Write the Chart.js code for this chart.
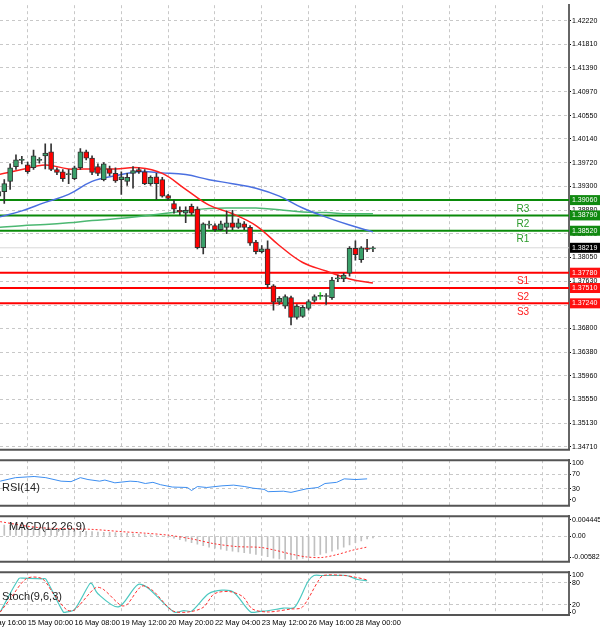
<!DOCTYPE html>
<html>
<head>
<meta charset="utf-8">
<script src="https://cdn.jsdelivr.net/npm/chart.js@4.4.1/dist/chart.umd.min.js"></script>
<style>
  html, body { margin: 0; padding: 0; background: #fff; }
  #wrap { position: relative; width: 600px; height: 631px; overflow: hidden; }
  .panel { position: absolute; left: 0; width: 600px; }
</style>
</head>
<body>
<div id="wrap">
  <div class="panel" style="top:0;height:455px"><canvas id="mainChart"></canvas></div>
  <div class="panel" style="top:455px;height:56px"><canvas id="rsiChart"></canvas></div>
  <div class="panel" style="top:511px;height:56px"><canvas id="macdChart"></canvas></div>
  <div class="panel" style="top:567px;height:64px"><canvas id="stochChart"></canvas></div>
</div>
<script>
// H4 candles
const opens  = [1.3913,1.3921,1.3939,1.3965,1.3976,1.3968,1.3963,1.3976,1.3984,1.3991,1.3960,1.3956,1.3951,1.3944,1.3963,1.3991,1.3980,1.3965,1.3942,1.3961,1.3953,1.3942,1.3939,1.3953,1.3960,1.3956,1.3935,1.3947,1.3942,1.3914,1.3900,1.3888,1.3883,1.3895,1.3890,1.3822,1.3862,1.3861,1.3854,1.3858,1.3866,1.3858,1.3864,1.3858,1.3832,1.3815,1.3820,1.3755,1.3726,1.3719,1.3734,1.3699,1.3701,1.3715,1.3729,1.3736,1.3736,1.3734,1.3767,1.3767,1.3777,1.3821,1.3801,1.3822,1.3820];
const highs  = [1.3925,1.3942,1.3970,1.3986,1.3983,1.3973,1.3994,1.3981,1.4005,1.4005,1.3963,1.3960,1.3960,1.3966,1.3997,1.3994,1.3984,1.3970,1.3972,1.3966,1.3963,1.3956,1.3953,1.3965,1.3963,1.3960,1.3949,1.3953,1.3946,1.3916,1.3906,1.3894,1.3894,1.3899,1.3894,1.3866,1.3869,1.3864,1.3869,1.3887,1.3888,1.3873,1.3868,1.3861,1.3835,1.3826,1.3834,1.3757,1.3736,1.3739,1.3737,1.3722,1.3720,1.3730,1.3739,1.3743,1.3741,1.3770,1.3774,1.3777,1.3824,1.3834,1.3824,1.3837,1.3824];
const lows   = [1.3904,1.3900,1.3925,1.3960,1.3970,1.3953,1.3960,1.3971,1.3961,1.3958,1.3951,1.3939,1.3935,1.3942,1.3960,1.3977,1.3951,1.3949,1.3940,1.3949,1.3937,1.3916,1.3932,1.3927,1.3953,1.3933,1.3932,1.3907,1.3911,1.3906,1.3883,1.3880,1.3866,1.3880,1.3820,1.3811,1.3856,1.3851,1.3852,1.3847,1.3854,1.3856,1.3854,1.3826,1.3811,1.3813,1.3752,1.3712,1.3722,1.3715,1.3686,1.3696,1.3699,1.3712,1.3726,1.3731,1.3722,1.3731,1.3762,1.3762,1.3772,1.3800,1.3796,1.3815,1.3815];
const closes = [1.3921,1.3935,1.3963,1.3977,1.3977,1.3956,1.3984,1.3977,1.3989,1.3960,1.3955,1.3944,1.3952,1.3963,1.3991,1.3980,1.3955,1.3953,1.3970,1.3953,1.3940,1.3947,1.3946,1.3958,1.3956,1.3935,1.3946,1.3935,1.3913,1.3909,1.3890,1.3885,1.3888,1.3883,1.3822,1.3864,1.3863,1.3854,1.3864,1.3866,1.3858,1.3866,1.3858,1.3830,1.3815,1.3820,1.3757,1.3726,1.3733,1.3736,1.3699,1.3719,1.3717,1.3727,1.3736,1.3738,1.3737,1.3765,1.3767,1.3774,1.3821,1.3810,1.3822,1.3819,1.38219];

// moving averages, sampled every 4 candles
const maIndex   = [0,4,8,12,16,20,24,28,32,36,40,44,48,52,56,60,64];
const maRed     = [1.3951,1.3960,1.3968,1.3961,1.3961,1.3961,1.3963,1.3953,1.3925,1.3897,1.3882,1.3861,1.3826,1.3796,1.3781,1.3767,1.3760];
const maBlue    = [1.3876,1.3887,1.3902,1.3916,1.3939,1.3949,1.3956,1.3954,1.3951,1.3942,1.3935,1.3927,1.3913,1.3892,1.3876,1.3862,1.3850];
const maGreen   = [1.3858,1.3861,1.3863,1.3866,1.3870,1.3873,1.3877,1.3882,1.3887,1.3891,1.3892,1.3892,1.3889,1.3885,1.3884,1.3882,1.3882];

// pivot levels
const levelNames  = ['R3','R2','R1','S1','S2','S3'];
const levelValues = [1.39060,1.38790,1.38520,1.37780,1.37510,1.37240];
const lastPrice = 1.38219;

const priceTicks = [1.42220,1.41810,1.41390,1.40970,1.40550,1.40140,1.39720,1.39300,1.38880,1.38470,1.38050,1.37630,1.37210,1.36800,1.36380,1.35960,1.35550,1.35130,1.34710];

// RSI(14)
const rsiX = [0.3,2.9,6.1,8.1,10.7,12.4,14,15.3,17.3,18.2,19.9,22.5,23.8,25.1,26.4,27.7,29.7,32.3,33,34,35.6,38.2,40.2,42.1,43.5,45.4,46.1,48.7,50,52.6,54.6,55.8,57.8,59.1,61.1,63];
const rsiY = [51,60.5,63.7,60.5,51,49.7,60.5,55.4,51,54,46.5,51,49.7,44.6,47.8,41.4,35,33.8,25.6,36.3,33.8,38.3,40.2,36.3,31.9,28.7,22.4,23.7,20.5,30,33.8,44.6,47.8,57.3,55.4,57.3];

// MACD(12,26,9): histogram per candle, signal sampled
const macdHist = [0.0031,0.0030,0.0029,0.0028,0.0027,0.0026,0.0025,0.0024,0.0022,0.0020,0.0018,0.0016,0.0015,0.0014,0.0013,0.0013,0.0012,0.0011,0.0010,0.0010,0.0009,0.0008,0.0007,0.0006,0.0005,0.0004,0.0003,0.0002,0.0000,-0.0003,-0.0006,-0.0010,-0.0014,-0.0018,-0.0022,-0.0026,-0.0030,-0.0033,-0.0036,-0.0039,-0.0041,-0.0043,-0.0045,-0.0047,-0.0050,-0.0053,-0.0056,-0.0060,-0.0062,-0.0063,-0.0064,-0.0063,-0.0061,-0.0058,-0.0054,-0.0050,-0.0046,-0.0041,-0.0036,-0.0030,-0.0024,-0.0018,-0.0013,-0.0008,-0.0005];
const macdSigX = [0.3,6.8,16,21.2,25.1,29,33,36.9,40.8,44.8,47.4,50,52.6,55.2,57.8,60.4,63];
const macdSigY = [0.0039,0.0023,0.0018,0.00117,0.00077,0.00023,-0.00077,-0.0021,-0.00287,-0.0031,-0.0039,-0.0049,-0.00567,-0.00584,-0.00507,-0.0039,-0.0030];

// Stoch(9,6,3)
const stochX = [0.3,3.5,4.2,7.5,8.1,11.1,11.7,13,15.6,16,17,20.5,23.8,25.5,30,31.7,33,35.9,38.2,40.2,43.1,44.7,46,48.7,50.6,52.9,53.9,55.2,57.8,59.5,61.4,63];
const stochK = [0,91.7,92.6,90.9,90.4,0,0.5,7,77.5,77,50,14.2,75,66.7,0,4.2,2.6,50,60,54.2,0.4,2,3.6,11,12.9,83.5,100,100,100,100,89,85.8];
const stochSigX = [0.3,1.9,4.8,7.5,9.4,11.7,13,16.6,17.9,20.9,21.9,24.5,26.4,29.7,32.3,35,36.9,39.5,41.8,43.4,46.1,50,51.9,54.6,55.5,59.1,61.1,63];
const stochD = [0,33.4,91.7,90.9,50,5.9,5.9,66.7,62.5,18.4,19.2,70.9,58.4,4.2,0,12.9,50,56,41.7,8.4,0.4,8.4,12.9,83.5,100,100,95,88];

// time axis: a label every 8 bars
const timeTicks = [-3,5,13,21,29,37,45,53,61,69,77,85,93];
const timeLabels = {'-3':'14 May 16:00',5:'15 May 00:00',13:'16 May 08:00',21:'19 May 12:00',29:'20 May 20:00',37:'22 May 04:00',45:'23 May 12:00',53:'26 May 16:00',61:'28 May 00:00'};

const X_MIN = 0.27, X_MAX = 97.5;
const FONT = 'Liberation Sans';
const GRID = '#c8c8c8';

function pts(xs, ys) { return xs.map((x, i) => ({x: x, y: ys[i]})); }

function xAxis(showLabels) {
    return {
        type: 'linear', min: X_MIN, max: X_MAX, offset: false,
        afterBuildTicks: s => { s.ticks = timeTicks.map(v => ({value: v})); },
        afterFit: s => { s.height = showLabels ? 16 : 0; s.paddingLeft = 0; s.paddingRight = 0; },
        grid: { color: GRID, drawTicks: false, offset: false },
        border: { display: false, dash: [3, 3] },
        ticks: {
            display: showLabels, autoSkip: false, maxRotation: 0, align: 'start',
            padding: 3, color: '#000', font: { family: FONT, size: 7.5 },
            callback: v => timeLabels[v] || ''
        }
    };
}

function yAxis(min, max, ticks, fmt, gridAt) {
    return {
        position: 'right', min: min, max: max,
        afterBuildTicks: s => { s.ticks = ticks.map(v => ({value: v})); },
        afterFit: s => { s.width = 31; },
        grid: {
            color: c => (gridAt === null || gridAt.includes(c.tick.value)) ? GRID : 'rgba(0,0,0,0)',
            tickColor: '#000', tickLength: 2
        },
        border: { display: true, color: '#666', width: 2, dash: [3, 3] },
        ticks: { padding: 1, color: '#000', font: { family: FONT, size: 7 }, callback: fmt }
    };
}

// frame + panel title
const framePlugin = {
    id: 'frame',
    afterDraw(chart, args, opts) {
        const a = chart.chartArea, ctx = chart.ctx;
        ctx.save();
        ctx.strokeStyle = '#555';
        ctx.lineWidth = 2;
        if (opts.top) { ctx.beginPath(); ctx.moveTo(0, a.top); ctx.lineTo(a.right + 1, a.top); ctx.stroke(); }
        if (opts.bottom) { ctx.beginPath(); ctx.moveTo(0, a.bottom); ctx.lineTo(a.right + 1, a.bottom); ctx.stroke(); }
        if (opts.title) {
            ctx.fillStyle = '#222';
            ctx.font = '11px ' + FONT;
            ctx.textBaseline = 'middle';
            ctx.fillText(opts.title, opts.tx, a.top + opts.ty);
        }
        ctx.restore();
    }
};

// price boxes on the right axis and level names
const levelPlugin = {
    id: 'levels',
    afterDraw(chart) {
        const ctx = chart.ctx, y = chart.scales.y, a = chart.chartArea;
        ctx.save();
        ctx.textBaseline = 'middle';
        const box = (v, bg, fg) => {
            const py = y.getPixelForValue(v);
            ctx.fillStyle = bg;
            ctx.fillRect(a.right + 1, py - 5, 600 - a.right, 10);
            ctx.fillStyle = fg;
            ctx.textAlign = 'left';
            ctx.font = '7px ' + FONT;
            ctx.fillText(v.toFixed(5), a.right + 3, py);
        };
        levelValues.forEach((v, i) => {
            const green = i < 3;
            box(v, green ? '#108a10' : '#ff1010', '#fff');
            ctx.font = '10px ' + FONT;
            ctx.fillStyle = green ? '#2a9a2a' : '#ff2020';
            ctx.textAlign = 'center';
            ctx.fillText(levelNames[i], 523, y.getPixelForValue(v) + 9);
        });
        box(lastPrice, '#000', '#fff');
        ctx.restore();
    }
};
Chart.register(framePlugin);

// candle datasets
const idx = closes.map((c, i) => i);
const bull = closes.map((c, i) => c >= opens[i]);
const wickData = idx.map(i => ({x: i, y: [lows[i], highs[i]]}));
const bodyData = idx.map(i => ({x: i, y: [opens[i], closes[i]]}));
const farX = [-5, 110];

const levelSets = levelValues.map((v, i) => ({
    type: 'line', data: pts(farX, [v, v]), borderColor: i < 3 ? '#0a8a0a' : '#ff0000',
    borderWidth: 2, pointRadius: 0, order: 6
}));

new Chart(document.getElementById('mainChart'), {
    type: 'bar',
    data: {
        datasets: [
            { type: 'line', data: pts(farX, [lastPrice, lastPrice]), borderColor: '#d8d8d8', borderWidth: 1, pointRadius: 0, order: 7 },
            ...levelSets,
            { type: 'line', data: pts(maIndex, maGreen), borderColor: '#4cb872', borderWidth: 1.5, pointRadius: 0, tension: 0.4, order: 5 },
            { type: 'line', data: pts(maIndex, maBlue), borderColor: '#4a6fe0', borderWidth: 1.5, pointRadius: 0, tension: 0.4, order: 4 },
            { type: 'line', data: pts(maIndex, maRed), borderColor: '#ff2020', borderWidth: 1.5, pointRadius: 0, tension: 0.4, order: 3 },
            { data: wickData, backgroundColor: idx.map(i => i === 55 ? '#22dd22' : '#333'), barThickness: 1, grouped: false, order: 2 },
            { data: bodyData, backgroundColor: bull.map(b => b ? '#3aa06a' : '#ff0000'), borderColor: '#333', borderWidth: 1, borderSkipped: false,
              barThickness: 5, minBarLength: 1, grouped: false, order: 1 }
        ]
    },
    options: {
        responsive: true, maintainAspectRatio: false, animation: false,
        layout: { padding: { top: 0, bottom: 1, left: 0, right: 0 } },
        plugins: { legend: { display: false }, tooltip: { enabled: false }, frame: { bottom: true } },
        scales: {
            x: xAxis(false),
            y: yAxis(1.34658, 1.42496, priceTicks, v => v.toFixed(5), null)
        }
    },
    plugins: [levelPlugin]
});

new Chart(document.getElementById('rsiChart'), {
    type: 'line',
    data: { datasets: [{ data: pts(rsiX, rsiY), borderColor: '#3d8ef0', borderWidth: 1, pointRadius: 0 }] },
    options: {
        responsive: true, maintainAspectRatio: false, animation: false,
        layout: { padding: { top: 1, bottom: 1 } },
        plugins: { legend: { display: false }, tooltip: { enabled: false }, frame: { top: true, bottom: true, title: 'RSI(14)', tx: 2, ty: 28 } },
        scales: { x: xAxis(false), y: yAxis(-16, 108, [100, 70, 30, 0], v => String(v), [70, 30]) }
    }
});

new Chart(document.getElementById('macdChart'), {
    type: 'bar',
    data: {
        datasets: [
            { type: 'line', data: pts(macdSigX, macdSigY), borderColor: '#ff3030', borderWidth: 1, borderDash: [2, 2], pointRadius: 0, tension: 0.3, order: 1 },
            { data: idx.map(i => ({x: i, y: macdHist[i]})), backgroundColor: '#c0c0c0', barThickness: 1, grouped: false, order: 2 }
        ]
    },
    options: {
        responsive: true, maintainAspectRatio: false, animation: false,
        layout: { padding: { top: 1, bottom: 2 } },
        plugins: { legend: { display: false }, tooltip: { enabled: false }, frame: { top: true, bottom: true, title: 'MACD(12,26,9)', tx: 9, ty: 11 } },
        scales: {
            x: xAxis(false),
            y: yAxis(-0.0070, 0.00538, [0.004445, 0, -0.005827], v => v === 0 ? '0.00' : String(v), [0])
        }
    }
});

new Chart(document.getElementById('stochChart'), {
    type: 'line',
    data: {
        datasets: [
            { data: pts(stochSigX, stochD), borderColor: '#ff3030', borderWidth: 1, borderDash: [3, 2], pointRadius: 0, tension: 0.3 },
            { data: pts(stochX, stochK), borderColor: '#4cc8c0', borderWidth: 1.2, pointRadius: 0, tension: 0.3 }
        ]
    },
    options: {
        responsive: true, maintainAspectRatio: false, animation: false,
        layout: { padding: { top: 1, bottom: 0 } },
        plugins: { legend: { display: false }, tooltip: { enabled: false }, frame: { top: true, bottom: true, title: 'Stoch(9,6,3)', tx: 2, ty: 25 } },
        scales: { x: xAxis(true), y: yAxis(-8, 109, [100, 80, 20, 0], v => String(v), [80, 20]) }
    }
});
</script>
</body>
</html>
